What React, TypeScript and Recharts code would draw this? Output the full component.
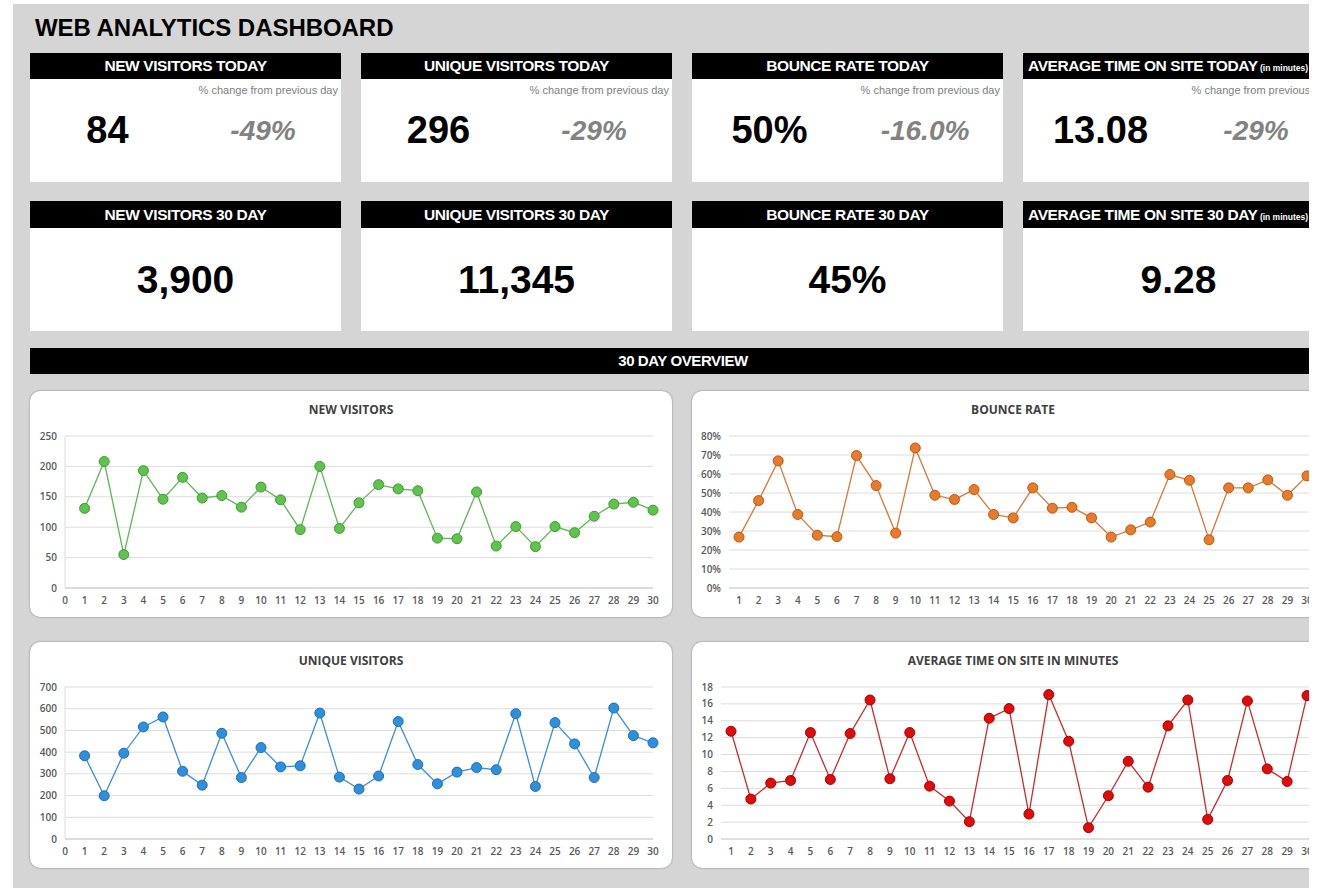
import React from "react";
import { LineChart, Line, XAxis, YAxis, CartesianGrid } from "recharts";

// 30 day series
const days = [
  1, 2, 3, 4, 5, 6, 7, 8, 9, 10, 11, 12, 13, 14, 15, 16, 17, 18, 19, 20, 21,
  22, 23, 24, 25, 26, 27, 28, 29, 30,
];
const newVisitors = [
  131, 208, 55, 193, 146, 182, 148, 152, 133, 166, 145, 96, 200, 98, 140, 170,
  163, 160, 82, 81, 158, 69, 101, 68, 101, 91, 118, 138, 141, 128,
];
const uniqueVisitors = [
  383, 199, 395, 516, 562, 312, 248, 487, 283, 421, 332, 337, 580, 285, 230,
  290, 541, 343, 254, 308, 329, 319, 577, 242, 536, 438, 283, 603, 476, 443,
];
const bounceRate = [
  26.8, 46, 66.9, 38.7, 27.8, 27, 69.7, 53.9, 28.9, 73.7, 48.8, 46.6, 51.8,
  38.7, 36.9, 52.7, 42, 42.5, 36.9, 26.8, 30.6, 34.7, 59.7, 56.7, 25.4, 52.7,
  52.7, 56.9, 48.8, 59,
];
const avgTime = [
  12.76, 4.73, 6.62, 6.93, 12.6, 7.05, 12.49, 16.46, 7.13, 12.6, 6.26, 4.49,
  2.05, 14.3, 15.44, 2.95, 17.1, 11.58, 1.34, 5.12, 9.2, 6.14, 13.4, 16.46,
  2.32, 6.93, 16.35, 8.3, 6.81, 16.98,
];

// tick labels
const dayTicksFromZero = [
  0, 1, 2, 3, 4, 5, 6, 7, 8, 9, 10, 11, 12, 13, 14, 15, 16, 17, 18, 19, 20,
  21, 22, 23, 24, 25, 26, 27, 28, 29, 30,
];
const newVisitorTicks = [0, 50, 100, 150, 200, 250];
const uniqueVisitorTicks = [0, 100, 200, 300, 400, 500, 600, 700];
const bounceTicks = [0, 10, 20, 30, 40, 50, 60, 70, 80];
const avgTimeTicks = [0, 2, 4, 6, 8, 10, 12, 14, 16, 18];

// KPI cards
const todayTitles = [
  "NEW VISITORS TODAY",
  "UNIQUE VISITORS TODAY",
  "BOUNCE RATE TODAY",
  "AVERAGE TIME ON SITE TODAY",
];
const todayValues = ["84", "296", "50%", "13.08"];
const todayChanges = ["-49%", "-29%", "-16.0%", "-29%"];
const monthTitles = [
  "NEW VISITORS 30 DAY",
  "UNIQUE VISITORS 30 DAY",
  "BOUNCE RATE 30 DAY",
  "AVERAGE TIME ON SITE 30 DAY",
];
const monthValues = ["3,900", "11,345", "45%", "9.28"];

const cardX = [30, 361, 692, 1023];
const headFont = "'Liberation Sans', Arial, sans-serif";
const chartFont = "'Open Sans', sans-serif";

interface IChartProps {
  title: string;
  x: number;
  y: number;
  values: number[];
  ticks: number[];
  numericX: boolean;
  yWidth: number;
  marginRight: number;
  line: string;
  fill: string;
  dotStroke: string;
  percent?: boolean;
}

const MiniChart: React.FC<IChartProps> = (props) => {
  const { title, x, y, values, ticks, numericX, yWidth, marginRight } = props;
  const data = days.map((d, i) => ({ day: d, value: values[i] }));
  const tickStyle = { fontSize: 10, fontWeight: 600, fill: "#595959", fontFamily: chartFont };
  const max = ticks[ticks.length - 1];
  return (
    <div
      style={{
        position: "absolute",
        left: x,
        top: y,
        width: 642,
        height: 226,
        background: "#fff",
        borderRadius: 10,
        boxShadow: "0 0 2px rgba(0,0,0,0.45)",
      }}
    >
      <div
        style={{
          position: "absolute",
          top: 10,
          width: "100%",
          textAlign: "center",
          fontFamily: chartFont,
          fontWeight: 700,
          fontSize: 12,
          color: "#404040",
        }}
      >
        {title}
      </div>
      <LineChart
        width={642}
        height={226}
        data={data}
        margin={{ top: 45, right: marginRight, bottom: 0, left: 5 }}
      >
        <CartesianGrid vertical={false} stroke="#dcdcdc" />
        {numericX ? (
          <XAxis
            dataKey="day"
            type="number"
            domain={[0, 30]}
            ticks={dayTicksFromZero}
            interval={0}
            tickLine={false}
            axisLine={{ stroke: "#c8c8c8" }}
            tick={tickStyle}
            tickMargin={3}
            height={29}
          />
        ) : (
          <XAxis
            dataKey="day"
            interval={0}
            padding={{ left: 10, right: 10 }}
            tickLine={false}
            axisLine={{ stroke: "#d0d0d0" }}
            tick={tickStyle}
            tickMargin={3}
            height={29}
          />
        )}
        <YAxis
          domain={[0, max]}
          ticks={ticks}
          interval={0}
          width={yWidth}
          tickLine={false}
          axisLine={numericX ? { stroke: "#dcdcdc" } : false}
          tick={tickStyle}
          tickFormatter={(v: number) => (props.percent ? `${v}%` : `${v}`)}
        />
        <Line
          type="linear"
          dataKey="value"
          stroke={props.line}
          strokeWidth={1.3}
          dot={{ r: 5, fill: props.fill, stroke: props.dotStroke, strokeWidth: 1 }}
          isAnimationActive={false}
        />
      </LineChart>
    </div>
  );
};

const Header: React.FC<{ x: number; y: number; h: number; text: string; size: number }> = ({
  x,
  y,
  h,
  text,
  size,
}) => {
  const avg = text.startsWith("AVERAGE");
  return (
    <div
      style={{
        position: "absolute",
        left: x,
        top: y,
        width: 311,
        height: h,
        background: "#000",
        color: "#fff",
        fontFamily: headFont,
        fontWeight: 700,
        fontSize: size,
        lineHeight: `${h}px`,
        textAlign: avg ? "left" : "center",
        whiteSpace: "nowrap",
        letterSpacing: -0.4,
        overflow: "hidden",
      }}
    >
      {avg ? (
        <span style={{ marginLeft: 5 }}>
          {text}
          <span style={{ fontSize: 8.5, letterSpacing: 0 }}> (in minutes)</span>
        </span>
      ) : (
        text
      )}
    </div>
  );
};

export default function App() {
  return (
    <div style={{ position: "relative", width: 1324, height: 888, background: "#fff", overflow: "hidden" }}>
      <style>{"body{margin:0}"}</style>
      <div
        style={{
          position: "absolute",
          left: 13,
          top: 4,
          width: 1296,
          height: 884,
          background: "#d5d5d5",
        }}
      />
      <div style={{ position: "absolute", left: 0, top: 0, width: 1309, height: 888, overflow: "hidden" }}>
        <div
          style={{
            position: "absolute",
            left: 35,
            top: 14,
            fontFamily: headFont,
            fontWeight: 700,
            fontSize: 24,
            letterSpacing: -0.05,
            color: "#000",
          }}
        >
          WEB ANALYTICS DASHBOARD
        </div>

        {cardX.map((cx, i) => (
          <React.Fragment key={"t" + i}>
            <Header x={cx} y={53} h={26} text={todayTitles[i]} size={15.5} />
            <div
              style={{
                position: "absolute",
                left: cx,
                top: 79,
                width: 311,
                height: 103,
                background: "#fff",
                fontFamily: headFont,
              }}
            >
              <div
                style={{
                  position: "absolute",
                  right: 3,
                  top: 5,
                  fontSize: 11,
                  color: "#808080",
                  whiteSpace: "nowrap",
                }}
              >
                % change from previous day
              </div>
              <div
                style={{
                  position: "absolute",
                  left: 0,
                  width: 155,
                  top: 30,
                  textAlign: "center",
                  fontSize: 38,
                  fontWeight: 700,
                  color: "#000",
                }}
              >
                {todayValues[i]}
              </div>
              <div
                style={{
                  position: "absolute",
                  left: 155,
                  width: 156,
                  top: 36,
                  textAlign: "center",
                  fontSize: 28,
                  fontWeight: 700,
                  fontStyle: "italic",
                  color: "#828282",
                }}
              >
                {todayChanges[i]}
              </div>
            </div>

            <Header x={cx} y={201} h={27} text={monthTitles[i]} size={15.5} />
            <div
              style={{
                position: "absolute",
                left: cx,
                top: 228,
                width: 311,
                height: 103,
                background: "#fff",
                fontFamily: headFont,
                fontSize: 39,
                fontWeight: 700,
                textAlign: "center",
                lineHeight: "103px",
                color: "#000",
              }}
            >
              {monthValues[i]}
            </div>
          </React.Fragment>
        ))}

        <div
          style={{
            position: "absolute",
            left: 30,
            top: 348,
            width: 1306,
            height: 26,
            background: "#000",
            color: "#fff",
            fontFamily: headFont,
            fontWeight: 700,
            fontSize: 15,
            letterSpacing: -0.4,
            lineHeight: "26px",
            textAlign: "center",
          }}
        >
          30 DAY OVERVIEW
        </div>

        <MiniChart
          title="NEW VISITORS"
          x={30}
          y={391}
          values={newVisitors}
          ticks={newVisitorTicks}
          numericX
          yWidth={30}
          marginRight={19}
          line="#5cb851"
          fill="#62c24f"
          dotStroke="#3f9a35"
        />
        <MiniChart
          title="BOUNCE RATE"
          x={692}
          y={391}
          values={bounceRate}
          ticks={bounceTicks}
          numericX={false}
          yWidth={32}
          marginRight={17}
          line="#d9773a"
          fill="#e57b2c"
          dotStroke="#c0560f"
          percent
        />
        <MiniChart
          title="UNIQUE VISITORS"
          x={30}
          y={642}
          values={uniqueVisitors}
          ticks={uniqueVisitorTicks}
          numericX
          yWidth={30}
          marginRight={19}
          line="#3d8fd1"
          fill="#2f8fdb"
          dotStroke="#1f6fb0"
        />
        <MiniChart
          title="AVERAGE TIME ON SITE IN MINUTES"
          x={692}
          y={642}
          values={avgTime}
          ticks={avgTimeTicks}
          numericX={false}
          yWidth={24}
          marginRight={17}
          line="#cc2a2a"
          fill="#e00b0b"
          dotStroke="#a80000"
        />
      </div>
    </div>
  );
}
